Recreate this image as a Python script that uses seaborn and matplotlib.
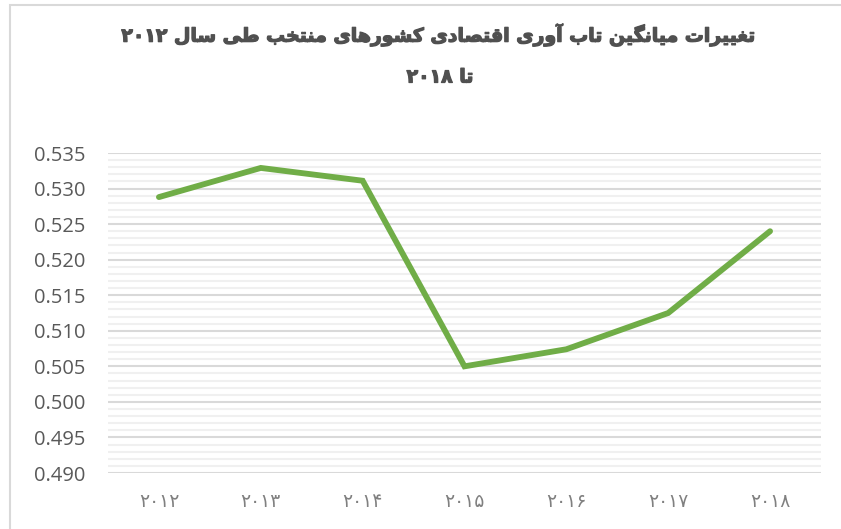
import matplotlib
matplotlib.use("Agg")
import matplotlib.pyplot as plt
import matplotlib.patheffects as pe
from matplotlib.patches import Rectangle
from matplotlib.ticker import MultipleLocator
import seaborn as sns
import pandas as pd

# ---------------- data ----------------
years = ["۲۰۱۲", "۲۰۱۳", "۲۰۱۴", "۲۰۱۵", "۲۰۱۶", "۲۰۱۷", "۲۰۱۸"]
resilience = [0.5288, 0.5329, 0.5311, 0.5050, 0.5074, 0.5125, 0.5240]
title_line1 = "تغییرات میانگین تاب آوری اقتصادی کشورهای منتخب طی سال ۲۰۱۲"
title_line2 = "تا ۲۰۱۸"
y_ticks = [0.490, 0.495, 0.500, 0.505, 0.510, 0.515, 0.520, 0.525, 0.530, 0.535]

# ------------- minimal Arabic/Persian shaping -------------
# forms: (isolated, final, initial, medial); None initial => right-joining only
FORMS = {
    "ا": (0xFE8D, 0xFE8E, None, None),
    "آ": (0xFE81, 0xFE82, None, None),
    "ب": (0xFE8F, 0xFE90, 0xFE91, 0xFE92),
    "ت": (0xFE95, 0xFE96, 0xFE97, 0xFE98),
    "خ": (0xFEA5, 0xFEA6, 0xFEA7, 0xFEA8),
    "د": (0xFEA9, 0xFEAA, None, None),
    "ر": (0xFEAD, 0xFEAE, None, None),
    "س": (0xFEB1, 0xFEB2, 0xFEB3, 0xFEB4),
    "ش": (0xFEB5, 0xFEB6, 0xFEB7, 0xFEB8),
    "ص": (0xFEB9, 0xFEBA, 0xFEBB, 0xFEBC),
    "ط": (0xFEC1, 0xFEC2, 0xFEC3, 0xFEC4),
    "غ": (0xFECD, 0xFECE, 0xFECF, 0xFED0),
    "ق": (0xFED5, 0xFED6, 0xFED7, 0xFED8),
    "ل": (0xFEDD, 0xFEDE, 0xFEDF, 0xFEE0),
    "م": (0xFEE1, 0xFEE2, 0xFEE3, 0xFEE4),
    "ن": (0xFEE5, 0xFEE6, 0xFEE7, 0xFEE8),
    "ه": (0xFEE9, 0xFEEA, 0xFEEB, 0xFEEC),
    "و": (0xFEED, 0xFEEE, None, None),
    "ک": (0xFB8E, 0xFB8F, 0xFB90, 0xFB91),
    "گ": (0xFB92, 0xFB93, 0xFB94, 0xFB95),
    "ی": (0xFBFC, 0xFBFD, 0xFBFE, 0xFBFF),
}


def shape_word(s):
    out = []
    for i, ch in enumerate(s):
        if ch not in FORMS:
            out.append(ch)
            continue
        prev = s[i - 1] if i > 0 else None
        nxt = s[i + 1] if i + 1 < len(s) else None
        join_prev = prev in FORMS and FORMS[prev][2] is not None
        join_next = FORMS[ch][2] is not None and nxt in FORMS
        iso, fin, ini, med = FORMS[ch]
        if join_prev and join_next:
            out.append(chr(med))
        elif join_prev:
            out.append(chr(fin))
        elif join_next:
            out.append(chr(ini))
        else:
            out.append(chr(iso))
    return "".join(out)


def is_digit(ch):
    return "0" <= ch <= "9" or "\u06F0" <= ch <= "\u06F9"


def rtl(s):
    # split into digit runs (kept LTR) and other runs (shaped, reversed)
    runs, cur, cur_d = [], "", None
    for ch in s:
        d = is_digit(ch)
        if cur and d != cur_d:
            runs.append((cur, cur_d))
            cur = ""
        cur += ch
        cur_d = d
    if cur:
        runs.append((cur, cur_d))
    vis = []
    for text, d in runs:
        vis.append(text if d else shape_word(text)[::-1])
    return "".join(vis[::-1])


# ---------------- plot ----------------
sns.set_theme(style="white")
plt.rcParams["font.family"] = ["DejaVu Sans"]

df = pd.DataFrame({"year": years, "value": resilience})

fig = plt.figure(figsize=(8.41, 5.29), dpi=100)
ax = fig.add_axes([108 / 841, 1 - 473 / 529, (821 - 108) / 841, (473 - 153) / 529])

sns.lineplot(data=df, x="year", y="value", ax=ax, color="#70AD47",
             linewidth=4.2, sort=False, solid_capstyle="round",
             solid_joinstyle="miter")

ax.set_xlim(-0.5, len(years) - 0.5)
ax.set_ylim(y_ticks[0], y_ticks[-1])
ax.set_yticks(y_ticks)
ax.set_yticklabels([f"{v:.3f}" for v in y_ticks], fontfamily="Open Sans",
                   fontsize=14.5, color="#595959")
ax.yaxis.set_minor_locator(MultipleLocator(0.001))
ax.set_xticks(range(len(years)))
ax.set_xticklabels(years, fontsize=13.5, color="#808080")
ax.grid(axis="y", which="major", color="#d9d9d9", linewidth=1.5, zorder=0)
ax.grid(axis="y", which="minor", color="#f0f0f0", linewidth=1.5, zorder=0)
ax.set_axisbelow(True)
ax.tick_params(axis="both", which="both", length=0)
ax.tick_params(axis="y", pad=16)
ax.tick_params(axis="x", pad=14)
for sp in ax.spines.values():
    sp.set_visible(False)
ax.set_xlabel("")
ax.set_ylabel("")

heavy = [pe.withStroke(linewidth=0.9, foreground="#505050")]
fig.text(440 / 841, 1 - 35 / 529, rtl(title_line1), ha="center", va="center",
         fontsize=13.6, fontweight="bold", color="#505050", path_effects=heavy)
fig.text(440 / 841, 1 - 77 / 529, rtl(title_line2), ha="center", va="center",
         fontsize=13.6, fontweight="bold", color="#505050", path_effects=heavy)

# chart-area frame (cropped at right and bottom)
fig.patches.append(Rectangle((10 / 841, -0.05), 1.0, 1 - 5 / 529 + 0.05,
                             transform=fig.transFigure, fill=False,
                             edgecolor="#d9d9d9", linewidth=1.5))

fig.savefig("out.png", dpi=100)
